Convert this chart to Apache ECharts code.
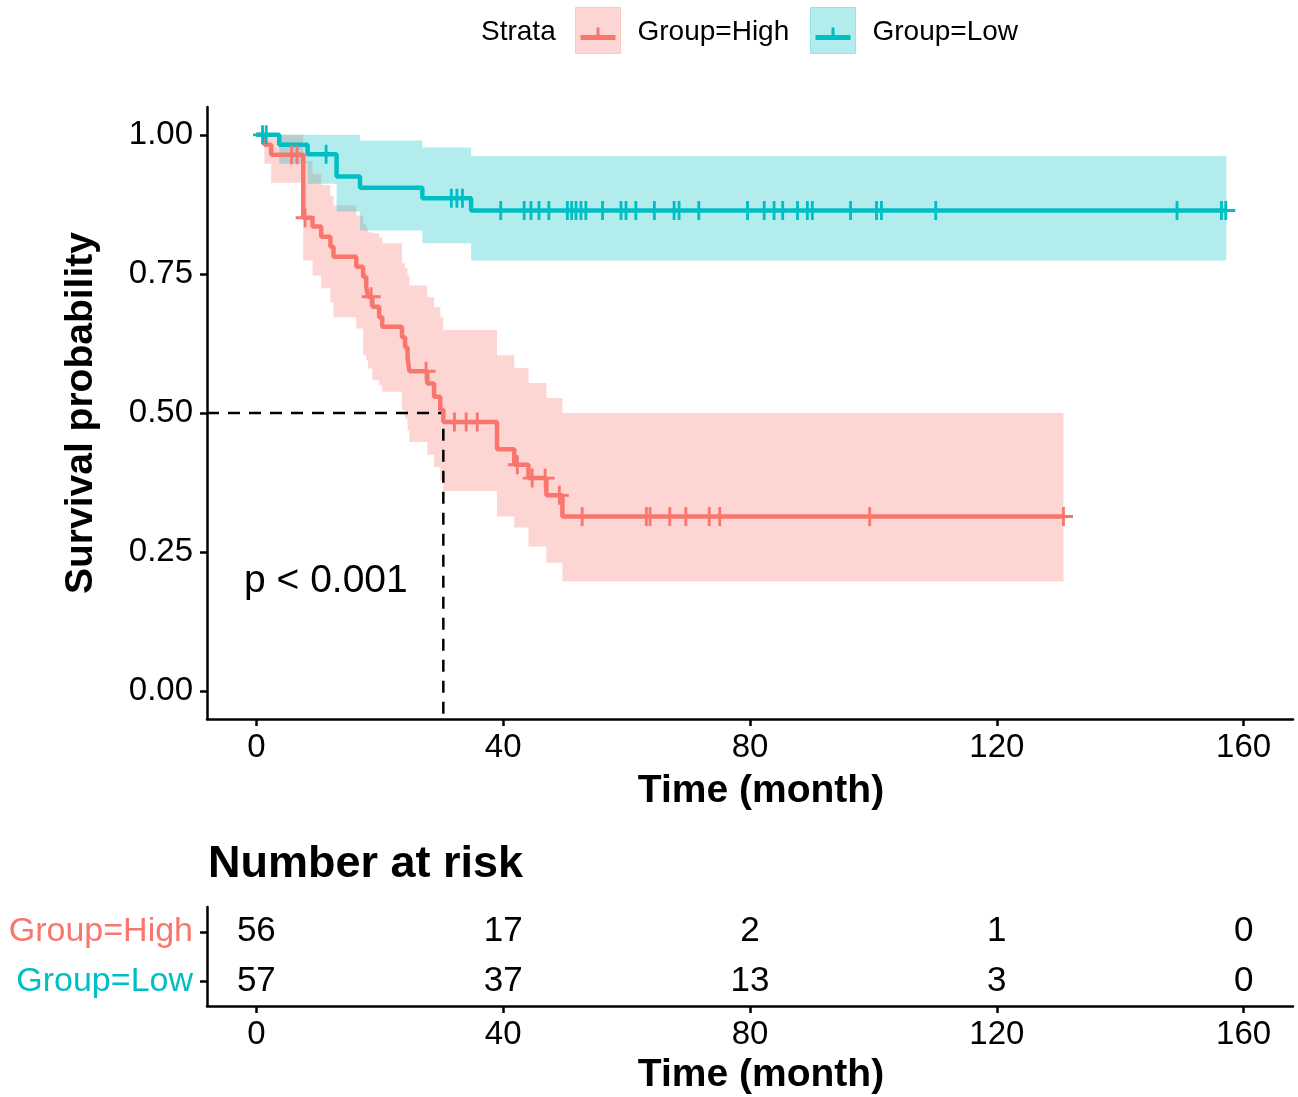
<!DOCTYPE html>
<html>
<head>
<meta charset="utf-8">
<script src="https://cdn.jsdelivr.net/npm/echarts@6/dist/echarts.min.js"></script>
<style>
html, body { margin: 0; padding: 0; background: #fff; }
#chart { width: 1298px; height: 1097px; }
</style>
</head>
<body>
<div id="chart"></div>
<script>
// Kaplan-Meier steps
var groupNames = ['Group=High', 'Group=Low'];

var highTimes = [0, 1.3, 2.4, 7.6, 9.1, 10.5, 12.0, 12.5, 16.2, 17.3, 17.8, 18.1, 18.8, 19.9, 20.4, 23.6, 24.1, 24.5, 24.8, 27.7, 28.8, 29.8, 30.3, 39.0, 41.8, 44.1, 47.0, 49.6];
var highSurv = [1.0, 0.982, 0.964, 0.851, 0.835, 0.817, 0.799, 0.781, 0.763, 0.745, 0.727, 0.709, 0.691, 0.672, 0.655, 0.636, 0.618, 0.600, 0.575, 0.553, 0.529, 0.506, 0.484, 0.435, 0.407, 0.383, 0.352, 0.314];
var highLower = [1.0, 0.948, 0.914, 0.774, 0.747, 0.724, 0.699, 0.672, 0.652, 0.604, 0.595, 0.580, 0.559, 0.550, 0.538, 0.505, 0.490, 0.469, 0.448, 0.425, 0.403, 0.380, 0.360, 0.314, 0.294, 0.260, 0.231, 0.197];
var highUpper = [1.0, 1.0, 1.0, 0.953, 0.930, 0.910, 0.890, 0.873, 0.855, 0.840, 0.832, 0.825, 0.823, 0.815, 0.805, 0.769, 0.760, 0.747, 0.729, 0.708, 0.690, 0.672, 0.649, 0.604, 0.581, 0.554, 0.527, 0.500];
var highEnd = 130.8;
var highCensor = [5.7, 6.6, 7.9, 18.6, 27.5, 32.1, 34.0, 35.8, 42.3, 44.7, 46.8, 49.1, 52.8, 63.2, 63.8, 67.0, 69.6, 73.4, 75.1, 99.4, 130.8];

var lowTimes = [0, 3.7, 8.3, 13.0, 16.8, 26.9, 34.8];
var lowSurv = [1.0, 0.982, 0.965, 0.925, 0.905, 0.886, 0.864];
var lowLower = [1.0, 0.948, 0.912, 0.862, 0.828, 0.805, 0.774];
var lowUpper = [1.0, 1.0, 1.0, 1.0, 0.990, 0.977, 0.962];
var lowEnd = 157.2;
var lowCensor = [1.0, 1.6, 11.3, 31.6, 32.5, 33.4, 39.6, 43.4, 44.5, 45.8, 47.4, 50.4, 51.1, 51.8, 52.6, 53.4, 56.1, 59.1, 59.9, 61.5, 64.5, 67.7, 68.5, 71.7, 79.6, 82.3, 83.9, 85.3, 87.7, 89.3, 90.1, 96.3, 100.5, 101.3, 110.1, 149.2, 156.4, 157.1];

var medianTime = 30.3;
var pValueText = 'p < 0.001';

// number at risk table
var riskTimes = [0, 40, 80, 120, 160];
var riskHigh = [56, 17, 2, 1, 0];
var riskLow = [57, 37, 13, 3, 0];

var xTicks = [0, 40, 80, 120, 160];
var yTicks = [0, 0.25, 0.5, 0.75, 1];


var red = '#F8766D';
var teal = '#00BFC4';
var redFill = 'rgba(248,118,109,0.3)';
var tealFill = 'rgba(0,191,196,0.3)';
var font = '"Liberation Sans", Arial, sans-serif';
var plusPath = 'path://M8.5,0h3v20h-3z M0,8.5h20v3h-20z';


function stepData(times, surv, end) {
    var out = [];
    for (var i = 0; i < times.length; i++) {
        out.push([times[i], surv[i]]);
    }
    out.push([end, surv[surv.length - 1]]);
    return out;
}

// value of the step curve at time t (for placing censor ticks on the line)
function survAt(times, surv, t) {
    var s = surv[0];
    for (var i = 0; i < times.length; i++) {
        if (times[i] <= t) s = surv[i];
    }
    return s;
}

function censorData(times, surv, censor) {
    return censor.map(function(t) {
        return [t, survAt(times, surv, t)];
    });
}

function bandSeries(times, lower, upper, end, fill) {
    return {
        type: 'custom',
        coordinateSystem: 'cartesian2d',
        xAxisIndex: 0,
        yAxisIndex: 0,
        silent: true,
        z: 1,
        data: [[times[0], upper[0]]],
        renderItem: function(params, api) {
            var pts = [];
            for (var i = 0; i < times.length; i++) {
                var next = i + 1 < times.length ? times[i + 1] : end;
                pts.push(api.coord([times[i], upper[i]]));
                pts.push(api.coord([next, upper[i]]));
            }
            for (var j = times.length - 1; j >= 0; j--) {
                var nx = j + 1 < times.length ? times[j + 1] : end;
                pts.push(api.coord([nx, lower[j]]));
                pts.push(api.coord([times[j], lower[j]]));
            }
            return {
                type: 'polygon',
                shape: { points: pts },
                style: { fill: fill }
            };
        }
    };
}

function riskData(values, name) {
    return riskTimes.map(function(t, i) {
        return [t, name, values[i]];
    });
}

var axisLineStyle = { color: '#000', width: 2.5 };

function valueXAxis(gridIndex, nameGap) {
    return {
        type: 'value',
        gridIndex: gridIndex,
        min: -8,
        max: 168,
        axisLine: { show: true, onZero: false, lineStyle: axisLineStyle },
        axisTick: { show: true, customValues: xTicks, length: 7, lineStyle: axisLineStyle },
        axisLabel: { customValues: xTicks, fontSize: 33, color: '#000', fontFamily: font, margin: 12 },
        splitLine: { show: false },
        name: 'Time (month)',
        nameLocation: 'middle',
        nameGap: nameGap,
        nameTextStyle: { fontSize: 39, fontWeight: 'bold', color: '#000', fontFamily: font, padding: [0, 0, 0, 22] }
    };
}

function legendKey(x, line, fill, label) {
    return {
        type: 'group',
        left: x,
        top: 7,
        children: [
            { type: 'rect', shape: { x: 0, y: 0, width: 45, height: 46 }, style: { fill: fill, stroke: fill, lineWidth: 1 } },
            { type: 'line', shape: { x1: 5, y1: 30, x2: 40, y2: 30 }, style: { stroke: line, lineWidth: 5 } },
            { type: 'line', shape: { x1: 22.5, y1: 20, x2: 22.5, y2: 32 }, style: { stroke: line, lineWidth: 3 } },
            { type: 'text', x: 62, y: 25, style: { text: label, fontSize: 28, fill: '#000', fontFamily: font, verticalAlign: 'middle' } }
        ]
    };
}

function riskLabelSeries(values, name) {
    return {
        type: 'scatter',
        xAxisIndex: 1,
        yAxisIndex: 1,
        symbolSize: 0,
        itemStyle: { opacity: 1 },
        data: riskData(values, name),
        label: {
            show: true, position: 'inside', fontSize: 35, color: '#000', fontFamily: font,
            formatter: function(p) { return p.value[2]; }
        }
    };
}


var chart = echarts.init(document.getElementById('chart'));

var option = {
    animation: false,
    backgroundColor: '#fff',
    textStyle: { fontFamily: font },
    grid: [
        { left: 207, right: 5, top: 107, bottom: 378 },
        { left: 207, right: 5, top: 907, bottom: 91 }
    ],
    xAxis: [
        valueXAxis(0, 53),
        valueXAxis(1, 50)
    ],
    yAxis: [{
        type: 'value',
        gridIndex: 0,
        min: -0.05,
        max: 1.05,
        axisLine: { show: true, onZero: false, lineStyle: axisLineStyle },
        axisTick: { show: true, customValues: yTicks, length: 7, lineStyle: axisLineStyle },
        axisLabel: {
            customValues: yTicks,
            fontSize: 33,
            color: '#000',
            fontFamily: font,
            margin: 14,
            formatter: function(v) { return v.toFixed(2); }
        },
        splitLine: { show: false },
        name: 'Survival probability',
        nameLocation: 'middle',
        nameGap: 106,
        nameTextStyle: { fontSize: 39, fontWeight: 'bold', color: '#000', fontFamily: font }
    }, {
        type: 'category',
        gridIndex: 1,
        data: [groupNames[1], groupNames[0]],
        axisLine: { show: true, onZero: false, lineStyle: axisLineStyle },
        axisTick: { show: true, alignWithLabel: true, length: 7, lineStyle: axisLineStyle },
        axisLabel: {
            margin: 14,
            formatter: function(v) {
                return v === groupNames[0] ? '{h|' + v + '}' : '{l|' + v + '}';
            },
            rich: {
                h: { color: red, fontSize: 34, fontFamily: font },
                l: { color: teal, fontSize: 34, fontFamily: font }
            }
        },
        splitLine: { show: false }
    }],
    graphic: [
        { type: 'text', left: 481, top: 18, style: { text: 'Strata', fontSize: 28, fill: '#000', fontFamily: font } },
        legendKey(575, red, redFill, groupNames[0]),
        legendKey(810, teal, tealFill, groupNames[1]),
        { type: 'text', left: 208, top: 842, style: { text: 'Number at risk', fontSize: 45, fontWeight: 'bold', fill: '#000', fontFamily: font } }
    ],
    series: [
        bandSeries(highTimes, highLower, highUpper, highEnd, redFill),
        bandSeries(lowTimes, lowLower, lowUpper, lowEnd, tealFill),
        {
            type: 'line',
            xAxisIndex: 0,
            yAxisIndex: 0,
            data: [[-8, 0.5], [medianTime, 0.5], [medianTime, -0.05]],
            showSymbol: false,
            z: 2,
            lineStyle: { color: '#000', width: 2.5, type: [12, 9] }
        },
        {
            type: 'line',
            name: groupNames[0],
            xAxisIndex: 0,
            yAxisIndex: 0,
            step: 'end',
            data: stepData(highTimes, highSurv, highEnd),
            showSymbol: false,
            z: 3,
            lineStyle: { color: red, width: 4.5 }
        },
        {
            type: 'line',
            name: groupNames[1],
            xAxisIndex: 0,
            yAxisIndex: 0,
            step: 'end',
            data: stepData(lowTimes, lowSurv, lowEnd),
            showSymbol: false,
            z: 3,
            lineStyle: { color: teal, width: 4.5 }
        },
        {
            type: 'scatter',
            xAxisIndex: 0,
            yAxisIndex: 0,
            symbol: plusPath,
            symbolSize: 19,
            z: 4,
            itemStyle: { color: red, opacity: 1 },
            data: censorData(highTimes, highSurv, highCensor)
        },
        {
            type: 'scatter',
            xAxisIndex: 0,
            yAxisIndex: 0,
            symbol: plusPath,
            symbolSize: 19,
            z: 4,
            itemStyle: { color: teal, opacity: 1 },
            data: censorData(lowTimes, lowSurv, lowCensor)
        },
        {
            type: 'scatter',
            xAxisIndex: 0,
            yAxisIndex: 0,
            symbolSize: 0,
            z: 5,
            itemStyle: { opacity: 1 },
            data: [[-2, 0.197]],
            label: {
                show: true,
                position: 'inside',
                align: 'left',
                verticalAlign: 'middle',
                formatter: pValueText,
                fontSize: 39,
                color: '#000',
                fontFamily: font
            }
        },
        riskLabelSeries(riskHigh, groupNames[0]),
        riskLabelSeries(riskLow, groupNames[1])
    ]
};

chart.setOption(option);
</script>
</body>
</html>
